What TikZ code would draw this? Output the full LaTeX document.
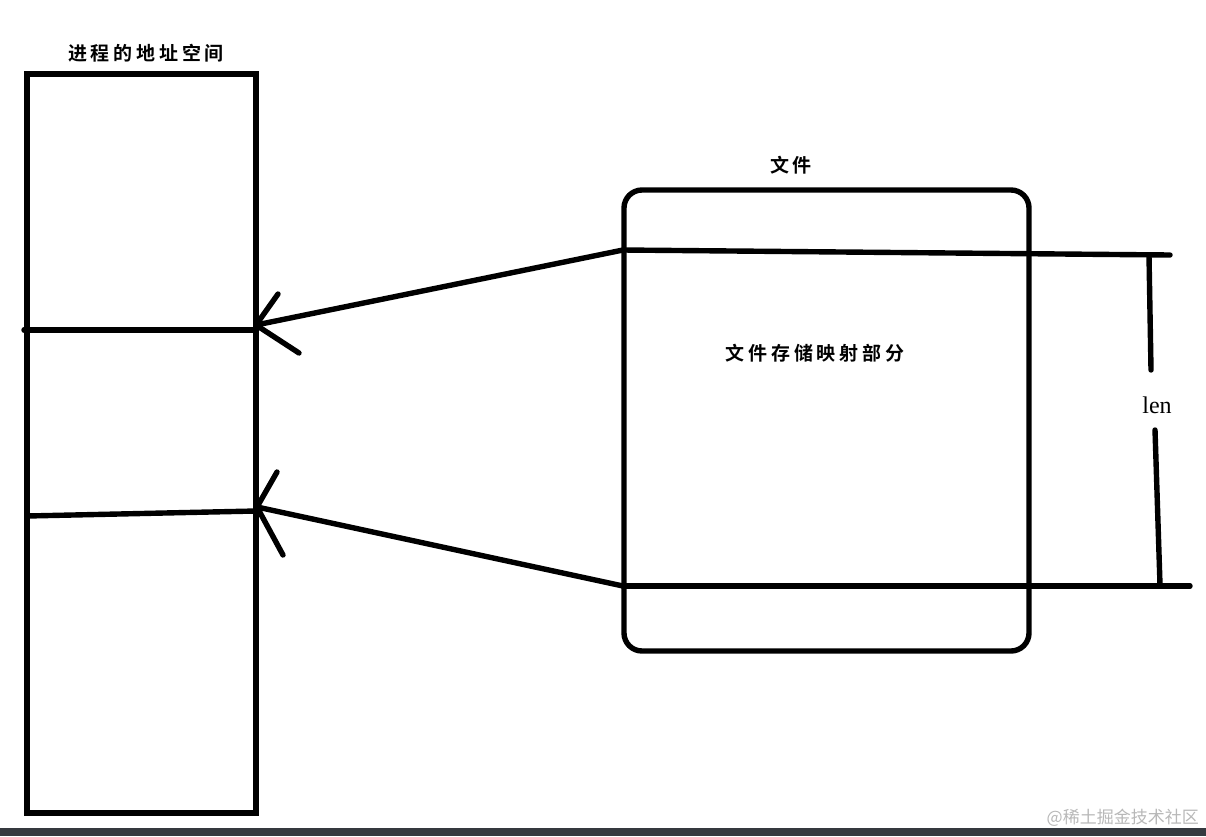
\documentclass[tikz,border=0pt]{standalone}
\usepackage{fontspec}
\setmainfont{Liberation Serif}
\newfontfamily\cjk{Noto Sans CJK SC}
\newfontfamily\cjkb[LetterSpace=20]{Noto Sans CJK SC Bold}
\begin{document}
\begin{tikzpicture}[x=1pt,y=-1pt,
  stroke/.style={line width=5.4pt,line cap=round,line join=round},
  box/.style={draw,line width=5.4pt,inner sep=0pt,outer sep=0pt},
  cjklabel/.style={font=\cjkb\fontsize{19}{19}\selectfont,inner sep=0pt}]
\useasboundingbox (0,0) rectangle (1206,836);
\fill[white] (0,0) rectangle (1206,836);
\fill[fill={rgb,255:red,53;green,57;blue,63}] (0,828) rectangle (1206,836);
\node[font=\cjk\fontsize{17}{17}\selectfont,text=black!28,anchor=east,inner sep=0pt] (wm) at (1199,818) {@稀土掘金技术社区};

% process address space
\node[box,minimum width=229pt,minimum height=739pt] (proc) at (141.5,443.5) {};
\node[cjklabel] (proclabel) at (146,53) {进程的地址空间};

% file
\node[box,rounded corners=18pt,minimum width=405pt,minimum height=461pt] (file) at (826.5,420.5) {};
\node[cjklabel] (filelabel) at (791,165) {文件};
\node[cjklabel] (maplabel) at (815,353) {文件存储映射部分};
\node[font=\fontsize{24}{24}\selectfont,inner sep=0pt] (len) at (1157,405) {len};

% coordinates
\coordinate (t1) at (256,325);
\coordinate (t2) at (257,507);
\coordinate (s1) at (623,250);
\coordinate (s2) at (623,586);
\coordinate (e1) at (1170,255);
\coordinate (e2) at (1190,586);
\coordinate (l1a) at (24,330);
\coordinate (l1b) at (256,330);
\coordinate (l2a) at (27,516);
\coordinate (l2b) at (256,511);
\coordinate (v1) at (1149,256);
\coordinate (v1b) at (1151,370);
\coordinate (v2a) at (1155,430);
\coordinate (v2) at (1160,585);

% horizontal lines in process space
\draw[stroke] (l1a) -- (l1b);
\draw[stroke] (l2a) -- (l2b);

% file mapping lines
\draw[stroke] (s1) -- (e1);
\draw[stroke] (s2) -- (e2);

% len dimension
\draw[stroke] (v1) -- (v1b);
\draw[stroke] (v2a) -- (v2);

% arrows
\draw[stroke] (s1) -- (t1);
\draw[stroke] (t1) -- (278,294);
\draw[stroke] (t1) -- (299,353);
\draw[stroke] (s2) -- (t2);
\draw[stroke] (t2) -- (277,472);
\draw[stroke] (t2) -- (283,555);
\end{tikzpicture}
\end{document}
